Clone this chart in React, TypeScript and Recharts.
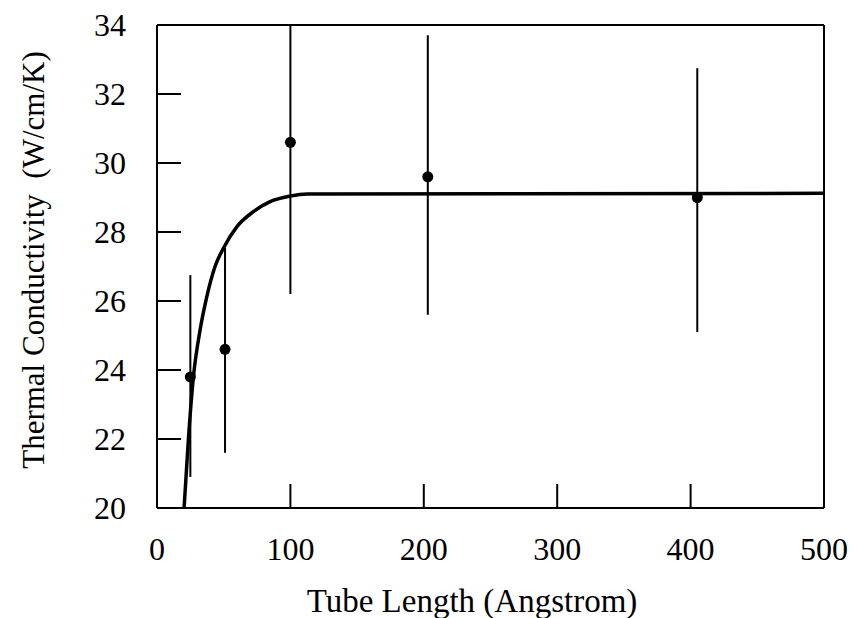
import React from 'react';
import { ComposedChart, Scatter, ErrorBar, XAxis, YAxis } from 'recharts';

// measured points (tube length in Angstrom, conductivity in W/cm/K)
const lengths = [25, 51, 100, 203, 405];
const conductivity = [23.8, 24.6, 30.6, 29.6, 29.0];
const errLow = [20.9, 21.6, 26.2, 25.6, 25.1];
const errHigh = [26.75, 27.55, 34.0, 33.7, 32.75];

// fitted curve
const fitX = [20.3, 23.5, 27.3, 32.3, 37.3, 43.5, 49.8, 59.8, 72.3, 84.8, 99.8, 112.4, 500];
const fitY = [20, 21.97, 23.8, 25.16, 26.12, 27.0, 27.53, 28.15, 28.59, 28.88, 29.04, 29.1, 29.12];

const xTicks = [0, 100, 200, 300, 400, 500];
const yTicks = [20, 22, 24, 26, 28, 30, 32, 34];

const FONT = '"Liberation Serif", "DejaVu Serif", serif';
const TICK_LEN = 24;

const points = lengths.map((x, i) => ({
  x,
  y: conductivity[i],
  err: [conductivity[i] - errLow[i], errHigh[i] - conductivity[i]],
}));
const fit = fitX.map((x, i) => ({ x, y: fitY[i] }));

const BottomTick = ({ x, y, payload }: any) => (
  <g>
    <line x1={x} y1={y} x2={x} y2={y - TICK_LEN} stroke="#000" strokeWidth={2} />
    <text x={x} y={y + 52} textAnchor="middle" fontSize={32} fontFamily={FONT} fill="#000">
      {payload.value}
    </text>
  </g>
);

const TopTick = ({ x, y }: any) => (
  <line x1={x} y1={y} x2={x} y2={y + TICK_LEN + 3} stroke="#000" strokeWidth={2} />
);

const LeftTick = ({ x, y, payload }: any) => (
  <g>
    <line x1={x} y1={y} x2={x + TICK_LEN} y2={y} stroke="#000" strokeWidth={2} />
    <text x={x - 31} y={y + 11} textAnchor="end" fontSize={32} fontFamily={FONT} fill="#000">
      {payload.value}
    </text>
  </g>
);

const RightTick = ({ x, y }: any) => (
  <line x1={x} y1={y} x2={x - TICK_LEN} y2={y} stroke="#000" strokeWidth={2} />
);

const YTitle = () => (
  <text
    x={33}
    y={260}
    transform="rotate(-90 33 260)"
    textAnchor="middle"
    dominantBaseline="central"
    fontSize={31}
    fontFamily={FONT}
    fill="#000"
    style={{ whiteSpace: 'pre' }}
  >
    {'Thermal Conductivity  (W/cm/K)'}
  </text>
);

const XTitle = () => (
  <text x={472} y={612} textAnchor="middle" fontSize={33} fontFamily={FONT} fill="#000">
    Tube Length (Angstrom)
  </text>
);

const Dot = ({ cx, cy }: any) => <circle cx={cx} cy={cy} r={5.5} fill="#000" />;
const NoDot = () => <g />;

export default function App() {
  return (
    <div style={{ position: 'absolute', left: 0, top: 0, width: 854, height: 618, background: '#fff' }}>
      <ComposedChart width={854} height={618} margin={{ top: 20, right: 20, bottom: 50, left: 57 }}>
        <XAxis
          dataKey="x"
          type="number"
          domain={[0, 500]}
          ticks={xTicks}
          allowDataOverflow
          height={60}
          tickSize={0}
          tickMargin={0}
          tickLine={false}
          axisLine={{ stroke: '#000', strokeWidth: 2 }}
          tick={<BottomTick />}
          interval={0}
          label={<XTitle />}
        />
        <XAxis
          xAxisId="top"
          orientation="top"
          dataKey="x"
          type="number"
          domain={[0, 500]}
          ticks={xTicks.slice(1, -1)}
          height={5}
          tickSize={0}
          tickMargin={0}
          tickLine={false}
          axisLine={{ stroke: '#000', strokeWidth: 2 }}
          tick={<TopTick />}
          interval={0}
        />
        <YAxis
          type="number"
          domain={[20, 34]}
          ticks={yTicks}
          allowDataOverflow
          width={100}
          tickSize={0}
          tickMargin={0}
          tickLine={false}
          axisLine={{ stroke: '#000', strokeWidth: 2 }}
          tick={<LeftTick />}
          interval={0}
          label={<YTitle />}
        />
        <YAxis
          yAxisId="right"
          orientation="right"
          type="number"
          domain={[20, 34]}
          ticks={yTicks.slice(1, -1)}
          width={10}
          tickSize={0}
          tickMargin={0}
          tickLine={false}
          axisLine={{ stroke: '#000', strokeWidth: 2 }}
          tick={<RightTick />}
          interval={0}
        />
        <Scatter
          data={fit}
          dataKey="y"
          line={{ stroke: '#000', strokeWidth: 3.5 }}
          lineJointType="monotoneX"
          shape={<NoDot />}
          isAnimationActive={false}
        />
        <Scatter data={points} dataKey="y" shape={<Dot />} isAnimationActive={false}>
          <ErrorBar dataKey="err" direction="y" width={0} stroke="#000" strokeWidth={2} isAnimationActive={false} />
        </Scatter>
      </ComposedChart>
    </div>
  );
}
